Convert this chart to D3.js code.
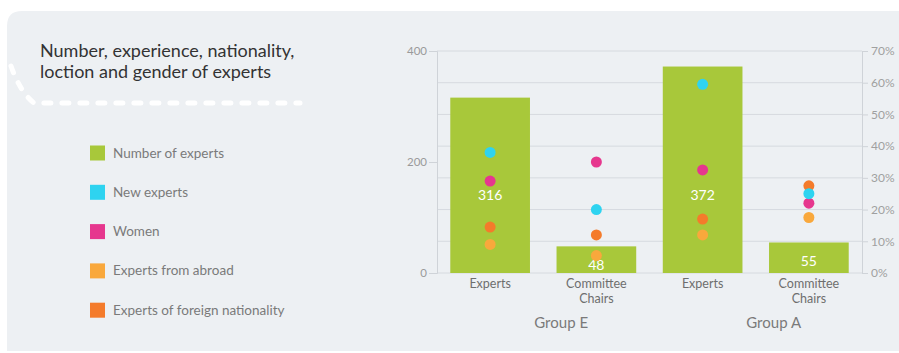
<!DOCTYPE html>
<html>
<head>
<meta charset="utf-8">
<script src="https://cdn.jsdelivr.net/npm/d3@7"></script>
<style>
  html, body { margin: 0; padding: 0; background: #ffffff; }
  svg { display: block; }
  text { font-family: "Lato", "Open Sans", sans-serif; }
</style>
</head>
<body>
<svg id="chart" width="899" height="353"></svg>
<script>
// Categories and groups
const categories = ["Experts E", "Chairs E", "Experts A", "Chairs A"];
const categoryLabels = [["Experts"], ["Committee", "Chairs"], ["Experts"], ["Committee", "Chairs"]];
const groups = ["Group E", "Group A"];

// Bar series: number of experts (left axis)
const numberOfExperts = [316, 48, 372, 55];

// Dot series: shares in percent (right axis)
const newExperts = [38, 20, 59.5, 25];
const women = [29, 35, 32.5, 22];
const fromAbroad = [9, 5.5, 12, 17.5];
const foreignNationality = [14.5, 12, 17, 27.5];

// Tick values
const leftTicks = [0, 200, 400];
const rightTicks = [0, 10, 20, 30, 40, 50, 60, 70];

const seriesNames = ["Number of experts", "New experts", "Women", "Experts from abroad", "Experts of foreign nationality"];
const colors = ["#a8c83a", "#2ed3f0", "#e6378e", "#f9a83c", "#f47b2b"];

const svg = d3.select("#chart");

// Panel background
svg.append("path")
  .attr("d", "M7,26 Q7,11 22,11 L899,11 L899,351 L7,351 Z")
  .attr("fill", "#edf0f3");

// Decorative dotted trail under the title
svg.append("path")
  .attr("d", "M11,66 Q20,92 34,103 L300,103")
  .attr("fill", "none")
  .attr("stroke", "#ffffff")
  .attr("stroke-width", 5)
  .attr("stroke-linecap", "round")
  .attr("stroke-dasharray", "7 11");

// Title
const title = svg.append("text")
  .attr("x", 40)
  .attr("y", 57)
  .attr("fill", "#333")
  .attr("font-size", 18);
title.append("tspan").attr("x", 40).text("Number, experience, nationality,");
title.append("tspan").attr("x", 40).attr("dy", 21).text("loction and gender of experts");

// Legend
const legend = svg.append("g");
seriesNames.forEach((name, i) => {
  const cy = 153 + i * 39.3;
  legend.append("rect")
    .attr("x", 90).attr("y", cy - 7.5)
    .attr("width", 15).attr("height", 15)
    .attr("fill", colors[i]);
  legend.append("text")
    .attr("x", 113).attr("y", cy + 4.5)
    .attr("fill", "#7a7a7a")
    .attr("font-size", 13.5)
    .text(name);
});

// Scales
const plotLeft = 437, plotRight = 862, plotTop = 51, plotBottom = 273;
const x = d3.scaleBand().domain(categories).range([plotLeft, plotRight]).paddingInner(0.25).paddingOuter(0.125);
const yCount = d3.scaleLinear().domain([0, 400]).range([plotBottom, plotTop]);
const yPct = d3.scaleLinear().domain([0, 70]).range([plotBottom, plotTop]);

// Gridlines
svg.append("g")
  .selectAll("line")
  .data(rightTicks)
  .join("line")
  .attr("x1", plotLeft).attr("x2", plotRight)
  .attr("y1", d => yPct(d)).attr("y2", d => yPct(d))
  .attr("stroke", "#d6dadf")
  .attr("stroke-width", 1);

// Left axis
const leftAxis = svg.append("g")
  .attr("transform", `translate(${plotLeft},0)`)
  .call(d3.axisLeft(yCount).tickValues(leftTicks).tickSize(8).tickPadding(2));
leftAxis.select(".domain").attr("stroke", "#cfd3d8");
leftAxis.selectAll(".tick line").attr("stroke", "#cfd3d8");
leftAxis.selectAll(".tick text").attr("fill", "#9a9a9a").attr("font-size", 11.5)
  .style("font-family", "Lato, sans-serif");

// Right axis
const rightAxis = svg.append("g")
  .attr("transform", `translate(${plotRight},0)`)
  .call(d3.axisRight(yPct).tickValues(rightTicks).tickSize(6).tickPadding(3).tickFormat(d => d + "%"));
rightAxis.select(".domain").attr("stroke", "#cfd3d8");
rightAxis.selectAll(".tick line").attr("stroke", "#cfd3d8");
rightAxis.selectAll(".tick text").attr("fill", "#a0a0a0").attr("font-size", 12)
  .style("font-family", "Lato, sans-serif");

// Bars
svg.append("g")
  .selectAll("rect")
  .data(categories)
  .join("rect")
  .attr("x", d => x(d))
  .attr("width", x.bandwidth())
  .attr("y", (d, i) => yCount(numberOfExperts[i]))
  .attr("height", (d, i) => plotBottom - yCount(numberOfExperts[i]))
  .attr("fill", colors[0]);

// Bar value labels
svg.append("g")
  .selectAll("text")
  .data(categories)
  .join("text")
  .attr("x", d => x(d) + x.bandwidth() / 2)
  .attr("y", (d, i) => numberOfExperts[i] > 100 ? yCount(132) : yCount(numberOfExperts[i]) + 24)
  .attr("text-anchor", "middle")
  .attr("fill", "#ffffff")
  .attr("font-size", 14)
  .text((d, i) => numberOfExperts[i]);

// Dots (drawn bottom-up so overlapping dots stack like the series order)
const dotSeries = [
  { values: foreignNationality, color: colors[4] },
  { values: fromAbroad, color: colors[3] },
  { values: women, color: colors[2] },
  { values: newExperts, color: colors[1] }
];
const dots = svg.append("g");
dotSeries.forEach(s => {
  dots.append("g")
    .selectAll("circle")
    .data(categories)
    .join("circle")
    .attr("cx", d => x(d) + x.bandwidth() / 2)
    .attr("cy", (d, i) => yPct(s.values[i]))
    .attr("r", 5.5)
    .attr("fill", s.color);
});

// Category labels (each line is its own text element)
const catG = svg.append("g");
categories.forEach((c, i) => {
  categoryLabels[i].forEach((line, j) => {
    catG.append("text")
      .attr("x", x(c) + x.bandwidth() / 2)
      .attr("y", 288 + j * 15)
      .attr("text-anchor", "middle")
      .attr("fill", "#6e6e6e")
      .attr("font-size", 12.5)
      .text(line);
  });
});

// Group labels
groups.forEach((g, i) => {
  const first = categories[i * 2], second = categories[i * 2 + 1];
  const cx = (x(first) + x.bandwidth() / 2 + x(second) + x.bandwidth()) / 2 - 2;
  svg.append("text")
    .attr("x", cx)
    .attr("y", 328)
    .attr("text-anchor", "middle")
    .attr("fill", "#7a7a7a")
    .attr("font-size", 15)
    .text(g);
});
</script>
</body>
</html>
